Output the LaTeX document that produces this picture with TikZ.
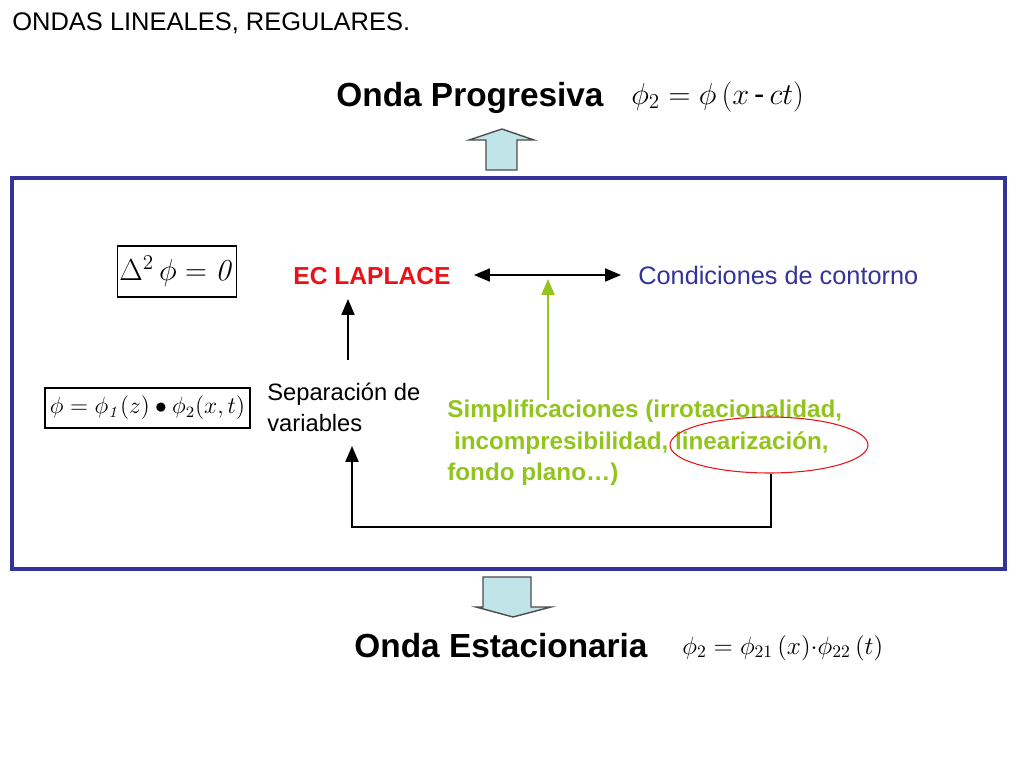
\documentclass[tikz,border=0pt]{standalone}
\usepackage[no-math]{fontspec}
\setmainfont{Liberation Sans}
\usepackage{amsmath}
\usepackage{graphicx}
\usetikzlibrary{shapes, arrows, calc, positioning}
\definecolor{frameblue}{RGB}{51,51,153}
\definecolor{ecred}{RGB}{232,18,24}
\definecolor{simpgreen}{RGB}{146,196,30}
\definecolor{blockfill}{RGB}{192,228,232}

\begin{document}
\begin{tikzpicture}[x=0.02cm, y=-0.02cm,
    txt/.style={font=\fontsize{13.5}{17.6}\selectfont, inner sep=0pt},
    big/.style={font=\fontsize{19}{22}\selectfont\bfseries, inner sep=0pt},
    eqbox/.style={draw, line width=0.7pt, inner sep=0pt},
    block/.style={draw=black!70, line width=0.8pt, fill=blockfill},
    link/.style={line width=1.1pt, -triangle 45}]
                \useasboundingbox (0,0) rectangle (1024,768);

                \node [txt, font=\fontsize{14.5}{17}\selectfont, anchor = base west] (Title) at (12,30) {ONDAS LINEALES, REGULARES.};

                \node [big, anchor = base] (Prog) at (470,106) {Onda Progresiva};
                \node [anchor = base west, inner sep=0pt, font=\fontsize{17.5}{20}\selectfont] (EqProg) at (631,104) {$\phi_{2} = \phi\,(x\,\text{-}\,ct)$};

                \draw [block] (486,170) -- (486,140) -- (469,140) -- (502,129) -- (534,140) -- (517,140) -- (517,170) -- cycle;

                \draw [frameblue, line width=2.2pt] (12,178) rectangle (1005,569);

                \node [eqbox, minimum width=2.38cm, minimum height=1.02cm, font=\fontsize{17}{20}\selectfont] (EqLap) at (177,271.5) {$\Delta^{2}\,\phi = \mathit{0}$};
                \node [eqbox, minimum width=4.1cm, minimum height=0.8cm, font=\fontsize{12}{15}\selectfont] (EqSep) at (147.5,408) {\scalebox{1.12}{$\phi = \phi_{\mathit{1}}(z) \bullet \phi_{2}(x,t)$}};

                \node [txt, ecred, font=\fontsize{14}{17}\selectfont\bfseries, anchor = base] (Lap) at (372,284) {EC LAPLACE};
                \node [txt, frameblue, font=\fontsize{14.4}{17}\selectfont, anchor = base west] (Cond) at (638,284) {Condiciones de contorno};
                \coordinate (L) at (474,275);
                \coordinate (R) at (621,275);
                \draw [line width=1.1pt, triangle 45-triangle 45] (L) to (R);

                \node [txt, align=left, anchor = north west] (Sep) at (267,383) {Separación de\\variables};
                \node [txt, simpgreen, font=\fontsize{13.8}{17.8}\selectfont\bfseries, align=left, anchor = north west] (Simp) at (447,400) {Simplificaciones (irrotacionalidad,\\ \ incompresibilidad, linearización,\\fondo plano…)};

                \node [draw=ecred, line width=0.6pt, ellipse, minimum width=3.96cm, minimum height=1.12cm] (E) at (769,445) {};

                \coordinate (S1) at (348,360);
                \coordinate (G1) at (548,400);
                \coordinate (G2) at (548,279);
                \draw [link] (S1) to (348,299);
                \draw [link, simpgreen] (G1) to (G2);
                \draw [link] (E.south -| 771,0) |- (352,527) to (352,446);

                \draw [block] (483,577) -- (483,607) -- (476,607) -- (513,617) -- (551,607) -- (531,607) -- (531,577) -- cycle;

                \node [big, anchor = base] (Est) at (501,657) {Onda Estacionaria};
                \node [anchor = base west, inner sep=0pt, font=\fontsize{14.5}{17}\selectfont] (EqEst) at (682,654) {$\phi_{2} = \phi_{21}\,(x){\cdot}\phi_{22}\,(t)$};
            \end{tikzpicture}
\end{document}
